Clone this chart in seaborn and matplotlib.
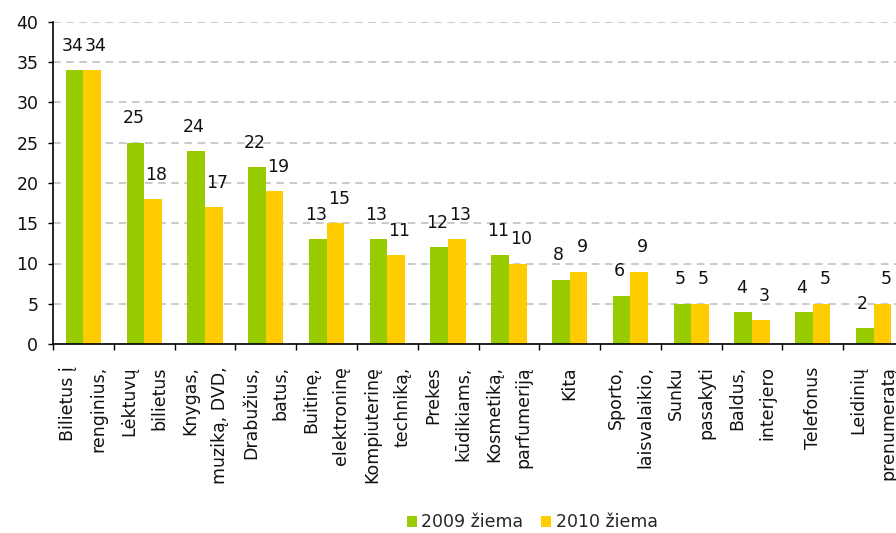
import matplotlib
matplotlib.use("Agg")
import matplotlib.pyplot as plt
import seaborn as sns
import pandas as pd

categories = [
    "Bilietus į\nrenginius,",
    "Lėktuvų\nbilietus",
    "Knygas,\nmuziką, DVD,",
    "Drabužius,\nbatus,",
    "Buitinę,\nelektroninę",
    "Kompiuterinę\ntechniką,",
    "Prekes\nkūdikiams,",
    "Kosmetiką,\nparfumeriją",
    "Kita",
    "Sporto,\nlaisvalaikio,",
    "Sunku\npasakyti",
    "Baldus,\ninterjero",
    "Telefonus",
    "Leidinių\nprenumeratą",
]
winter_2009 = [34, 25, 24, 22, 13, 13, 12, 11, 8, 6, 5, 4, 4, 2]
winter_2010 = [34, 18, 17, 19, 15, 11, 13, 10, 9, 9, 5, 3, 5, 5]
series_names = ["2009 žiema", "2010 žiema"]
colors = ["#99CC00", "#FFCC00"]

df = pd.DataFrame({
    "kategorija": categories * 2,
    "reikšmė": winter_2009 + winter_2010,
    "laikotarpis": [series_names[0]] * len(categories) + [series_names[1]] * len(categories),
})

sns.set_theme(style="white")
plt.rcParams["font.family"] = ["DejaVu Sans"]
FS = 12.5

fig = plt.figure(figsize=(8.96, 5.33), dpi=100)
W, H = 896, 533
ax_left, ax_right, ax_top, ax_bottom = 53, 904, 22, 344
ax = fig.add_axes([ax_left / W, (H - ax_bottom) / H,
                   (ax_right - ax_left) / W, (ax_bottom - ax_top) / H])

sns.barplot(data=df, x="kategorija", y="reikšmė", hue="laikotarpis",
            palette=colors, width=0.58, gap=0, saturation=1,
            linewidth=0, edgecolor="none", ax=ax, legend=True)

# value labels above each bar; the two series nudged apart a little
for cont, dx in zip(ax.containers, (-1.5, 2.5)):
    for bar in cont:
        h = bar.get_height()
        ax.annotate(f"{h:.0f}", (bar.get_x() + bar.get_width() / 2, h),
                    xytext=(dx, 11), textcoords="offset points",
                    ha="center", va="bottom", fontsize=FS, color="#111111")

ax.set_ylim(0, 40)
ax.set_xlim(-0.5, len(categories) - 0.5)
ax.set_yticks(range(0, 41, 5))
ax.set_xlabel("")
ax.set_ylabel("")

ax.yaxis.grid(True, linestyle=(0, (5, 3.6)), color="#bcbcbc", linewidth=1.1)
ax.xaxis.grid(False)
ax.set_axisbelow(True)

for s in ["top", "right"]:
    ax.spines[s].set_visible(False)
for s in ["left", "bottom"]:
    ax.spines[s].set_color("#000000")
    ax.spines[s].set_linewidth(1.2)

ax.tick_params(axis="y", left=True, length=3.6, width=1, color="#000000",
               pad=7, labelsize=FS, labelcolor="#111111")

# category labels at centres, tick marks at category boundaries
ax.set_xticks(range(len(categories)))
ax.set_xticklabels(categories, rotation=90, ha="center", va="top",
                   multialignment="right", linespacing=1.85,
                   fontsize=FS, color="#111111")
ax.tick_params(axis="x", which="major", length=0, pad=16)
ax.set_xticks([i - 0.5 for i in range(len(categories) + 1)], minor=True)
ax.tick_params(axis="x", which="minor", bottom=True, length=4, width=1,
               color="#000000")

handles, labels = ax.get_legend_handles_labels()
ax.legend(handles, labels, loc="lower center",
          bbox_to_anchor=(532 / W, 0.003), bbox_transform=fig.transFigure,
          ncol=2, frameon=False, fontsize=FS, handlelength=0.6,
          handleheight=0.6, handletextpad=0.25, columnspacing=1.0,
          borderaxespad=0, borderpad=0)

fig.savefig("out.png", dpi=100)
